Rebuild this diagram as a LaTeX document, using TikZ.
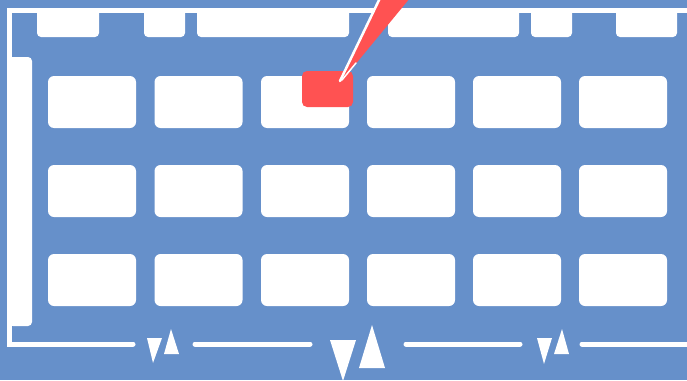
\documentclass[tikz,border=0pt]{standalone}
\begin{document}
\begin{tikzpicture}[x=1pt,y=-1pt,
  wline/.style={draw=white,line width=5pt,line cap=round},
  cell/.style={fill=white,rounded corners=6pt},
  tab/.style={fill=white,rounded corners=4pt},
  tri/.style={fill=white}]
\definecolor{bgblue}{RGB}{102,144,202}
\definecolor{pinred}{RGB}{255,82,82}
\fill[bgblue] (0,0) rectangle (687,380);
\useasboundingbox (0,0) rectangle (687,380);
% frame
\draw[draw=white,line width=5pt,line join=miter,line cap=round] (700,10.5) -- (9.5,10.5) -- (9.5,344) -- (133,344);
\draw[wline] (195,344) -- (310,344);
\draw[wline] (406,344) -- (520,344);
\draw[wline] (582,344) -- (700,344);
% tabs
\foreach \a/\b in {37/99,144/185,197/349,388/519,531/572,616/677}
  \fill[tab] (\a,8) rectangle (\b,37);
% left bar
\fill[white,rounded corners=4pt] (9,57) rectangle (32,326);
\fill[white] (9,57) rectangle (20,326);
% grid
\foreach \x in {48,154.5,261,367,473,579}
  \foreach \y in {76,165,254}
    \fill[cell] (\x,\y) rectangle ++(88,52);
% red marker
\fill[pinred,rounded corners=5pt] (302,71) rectangle (353,107);
\fill[pinred] (340,83) -- (381,-2) -- (410,-2) -- cycle;
\draw[white,line width=2.5pt,line cap=round] (340,81) -- (380,-2);
\draw[white,line width=1.5pt,line cap=round] (342,80) -- (356,63);
% triangles
\fill[tri] (147,338) -- (162,338) -- (153,363) -- cycle;
\fill[tri] (164,354) -- (179,354) -- (171,329) -- cycle;
\fill[tri] (330,340) -- (356,340) -- (343,381) -- cycle;
\fill[tri] (359,368) -- (385,368) -- (372,325) -- cycle;
\fill[tri] (537,338) -- (552,338) -- (544,364) -- cycle;
\fill[tri] (554,354) -- (569,354) -- (562,329) -- cycle;
\end{tikzpicture}
\end{document}
